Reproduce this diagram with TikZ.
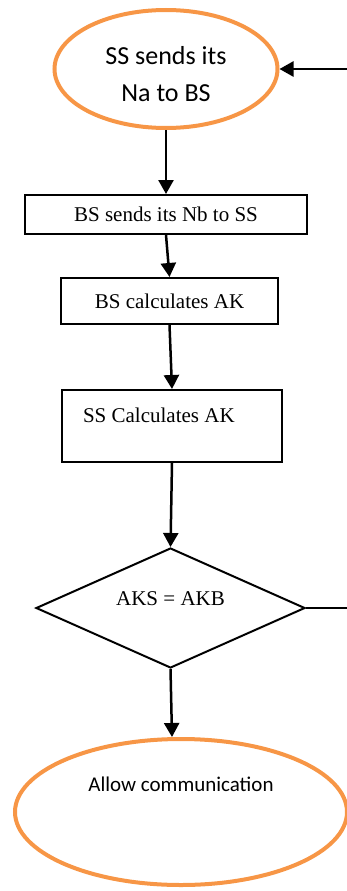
\documentclass[tikz,border=0pt]{standalone}
\usepackage{fontspec}
\setmainfont{Liberation Serif}
\newfontfamily\calibri{Carlito}
\usetikzlibrary{shapes.geometric,arrows.meta}
\definecolor{flowOrange}{HTML}{F79646}

\tikzset{
  flownode/.style  = {draw, line width=2pt, inner sep=0pt},
  terminal/.style  = {flownode, ellipse, draw=flowOrange, line width=4pt,
                      font=\calibri\fontsize{21pt}{25pt}\selectfont},
  process/.style   = {flownode, rectangle, font=\fontsize{21pt}{25pt}\selectfont},
  decision/.style  = {flownode, diamond, aspect=2.24,
                      font=\fontsize{21pt}{25pt}\selectfont},
  connector/.style = {draw, line width=2.5pt},
  flowarrow/.style = {connector, -{Triangle[length=14pt,width=15pt]}}
}

\begin{document}
\begin{tikzpicture}[x=1pt, y=-1pt]
\useasboundingbox (0,0) rectangle (347,891);

\node[terminal, minimum width=223pt, minimum height=118pt, align=center,
      font=\calibri\fontsize{26pt}{37pt}\selectfont] (start) at (166,69)
      {\rule{0pt}{29pt}SS sends its\\Na to BS};
\node[process, minimum width=282pt, minimum height=39pt] (sendNb) at (166,214.5)
      {BS sends its Nb to SS};
\node[process, minimum width=217pt, minimum height=46pt] (calcBS) at (169.5,301)
      {BS calculates AK};
\node[process, minimum width=220pt, minimum height=72pt, inner xsep=21pt,
      text width=178pt, align=flush left, text height=14pt, text depth=22pt] (calcSS) at (172,426)
      {SS Calculates AK};
\node[decision, minimum width=269pt, minimum height=120pt,
      text height=14pt, text depth=20pt] (check) at (170.5,608)
      {AKS = AKB};
\node[terminal, minimum width=332pt, minimum height=146pt,
      text height=14pt, text depth=56pt] (allow) at (181,812)
      {Allow communication};

\coordinate (loopTop) at (347,69);
\coordinate (loopEnd) at (347,608);

\draw[flowarrow] (start.south) -- (sendNb.north);
\draw[flowarrow] (sendNb.south) -- (calcBS.north);
\draw[flowarrow] (calcBS.south) -- (calcSS.north);
\draw[flowarrow] (calcSS.south) -- (check.north);
\draw[flowarrow] (check.south) -- ([xshift=1.5pt]check.south |- allow.north);
\draw[connector] (check.east) -- (loopEnd);
\draw[flowarrow] (loopTop) -- (start.east);
\end{tikzpicture}
\end{document}
